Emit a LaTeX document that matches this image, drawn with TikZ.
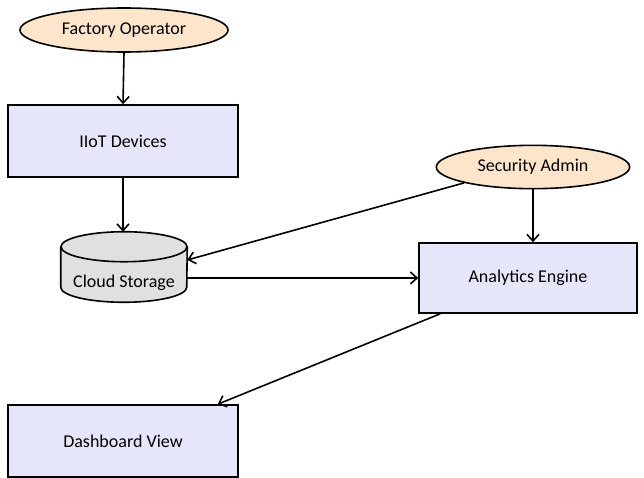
\documentclass[tikz,border=0pt]{standalone}
\usepackage{fontspec}
\setmainfont{Carlito}
\usetikzlibrary{shapes.geometric,arrows.meta,calc}
\definecolor{boxfill}{HTML}{E6E6FA}
\definecolor{actorfill}{HTML}{FDE5CC}
\definecolor{cylfill}{HTML}{E0E0E0}
\tikzset{
  px/.style={x=0.75pt,y=-0.75pt},
  boxnode/.style={draw=black,line width=1.2pt,fill=boxfill,rectangle,inner sep=0pt,font=\fontsize{13.5}{16}\selectfont},
  actor/.style={draw=black,line width=1.2pt,fill=actorfill,ellipse,inner sep=0pt,font=\fontsize{13.5}{16}\selectfont},
  conn/.style={line width=1.2pt,-{Straight Barb[length=5pt,width=9pt,line width=1.2pt]}},
  lbl/.style={font=\fontsize{13.5}{16}\selectfont,inner sep=0pt}
}
\begin{document}
\begin{tikzpicture}[px]
\useasboundingbox (0,0) rectangle (644,478);
\node[actor,minimum width=156pt,minimum height=33pt] (fo) at (124,30) {Factory Operator};
\node[boxnode,minimum width=172.5pt,minimum height=54pt] (iiot) at (123,141) {IIoT Devices};
\node[inner sep=0pt,minimum width=94.5pt,minimum height=52.5pt] (cs) at (124,267) {};
\node[actor,minimum width=145pt,minimum height=32.5pt] (sa) at (533,167) {Security Admin};
\node[boxnode,minimum width=163.5pt,minimum height=52.5pt] (ae) at (528,278) {Analytics Engine};
\node[boxnode,minimum width=172.5pt,minimum height=54pt] (db) at (123,441) {Dashboard View};
% cylinder drawing
\fill[cylfill] ($(cs.north west)+(0,15)$) -- ($(cs.south west)+(0,-15)$) arc[start angle=180,end angle=0,x radius=63,y radius=15] -- ($(cs.north east)+(0,15)$) arc[start angle=360,end angle=180,x radius=63,y radius=15] -- cycle;
\draw[line width=1.2pt] ($(cs.north west)+(0,15)$) -- ($(cs.south west)+(0,-15)$) arc[start angle=180,end angle=0,x radius=63,y radius=15] -- ($(cs.north east)+(0,15)$);
\draw[line width=1.2pt] ($(cs.north)+(0,15)$) ellipse[x radius=63,y radius=15];
\node[lbl] (cslbl) at (124,283) {Cloud Storage};
% connectors
\draw[conn] (fo.south) -- (iiot.north);
\draw[conn] (iiot.south) -- (iiot.south |- cs.north);
\draw[conn] (sa.south west) -- ($(cs.east)+(0,-7)$);
\draw[conn] (ae.west -| cs.east) -- (ae.west);
\draw[conn] (sa.south) -- (sa.south |- ae.north);
\draw[conn] ($(ae.south west)+(22,0)$) -- ($(db.north east)+(-21,0)$);
\end{tikzpicture}
\end{document}
